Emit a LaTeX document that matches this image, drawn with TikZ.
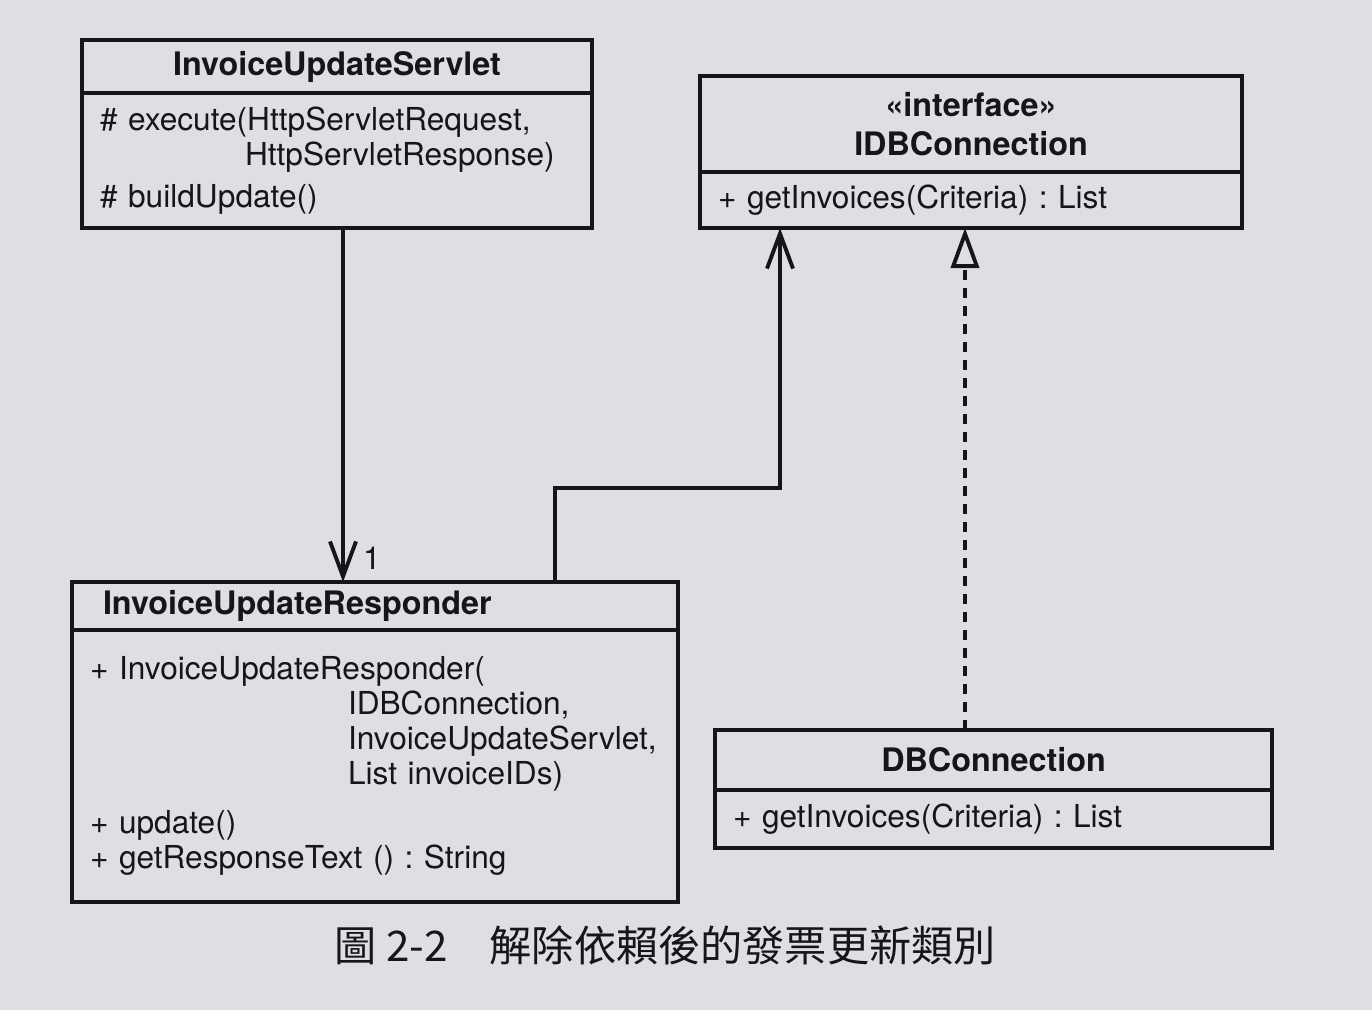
\documentclass[tikz,border=0pt]{standalone}
\usepackage{fontspec}
\setmainfont{TeX Gyre Heros}
\newfontfamily\cjk{Noto Sans CJK TC}
\frenchspacing
\usetikzlibrary{positioning,arrows.meta}
\definecolor{paper}{RGB}{221,223,227}
\definecolor{ink}{RGB}{22,22,26}

\tikzset{
  classname/.style={draw=ink, line width=1.2pt, outer sep=0pt, inner xsep=0.18cm, inner ysep=2pt,
    font=\fontsize{9.2}{11}\selectfont\bfseries, text=ink, align=center},
  classbody/.style={draw=ink, line width=1.2pt, outer sep=0pt, inner xsep=0.18cm, inner ysep=2pt,
    font=\fontsize{9}{10}\selectfont, text=ink, align=left},
  assoc/.style={draw=ink, line width=1.1pt, -{Straight Barb[length=3.5mm,width=2.6mm]}},
  realize/.style={draw=ink, line width=1.1pt, dash pattern=on 1mm off 0.8mm,
    -{Triangle[open,length=4mm,width=2.8mm]}},
}

\begin{document}
\begin{tikzpicture}
  \fill[paper] (0,0) rectangle (13.72,-10.10);

  % InvoiceUpdateServlet
  \node[classname, anchor=north west, minimum width=5.10cm, minimum height=0.53cm]
    (servlet) at (0.82,-0.40) {InvoiceUpdateServlet};
  \node[classbody, below=0pt of servlet, text width=4.74cm, minimum height=1.35cm]
    (servletops) {\# execute(HttpServletRequest,\\
      \hspace{1.45cm}HttpServletResponse)\\[2pt]
      \# buildUpdate()\\[-4pt]};

  % IDBConnection
  \node[classname, anchor=north west, minimum width=5.42cm, minimum height=0.96cm]
    (idb) at (7.00,-0.76) {«interface»\\IDBConnection};
  \node[classbody, below=0pt of idb, text width=5.06cm, minimum height=0.56cm]
    (idbops) {+ getInvoices(Criteria) : List};

  % InvoiceUpdateResponder
  \node[classname, anchor=north west, inner xsep=0.31cm, text width=5.44cm,
    align=left, minimum height=0.48cm]
    (responder) at (0.72,-5.82) {InvoiceUpdateResponder};
  \node[classbody, below=0pt of responder, text width=5.70cm, minimum height=2.72cm]
    (responderops) {+ InvoiceUpdateResponder(\\
      \hspace{2.58cm}IDBConnection,\\
      \hspace{2.58cm}InvoiceUpdateServlet,\\
      \hspace{2.58cm}List invoiceIDs)\\[4pt]
      + update()\\
      + getResponseText () : String\\[-4pt]};

  % DBConnection
  \node[classname, anchor=north west, minimum width=5.57cm, minimum height=0.60cm]
    (db) at (7.15,-7.30) {DBConnection};
  \node[classbody, below=0pt of db, text width=5.21cm, minimum height=0.58cm]
    (dbops) {+ getInvoices(Criteria) : List};

  % connectors
  \coordinate (colA) at (3.43,0);
  \coordinate (kneeA) at (5.55,-4.88);
  \coordinate (kneeB) at (7.80,-4.88);
  \coordinate (colB) at (9.65,0);
  \draw[assoc] (servletops.south -| colA) -- (responder.north -| colA);
  \node[font=\fontsize{9}{10}\selectfont, text=ink] (mult) at (3.72,-5.58) {1};
  \draw[assoc] (responder.north -| kneeA) -- (kneeA) -- (kneeB) -- (kneeB |- idbops.south);
  \draw[realize] (db.north -| colB) -- (idbops.south -| colB);

  \node[anchor=west, text=ink, font=\cjk\fontsize{12}{14}\selectfont]
    (caption) at (3.22,-9.45) {圖 2-2\quad 解除依賴後的發票更新類別};
\end{tikzpicture}
\end{document}
